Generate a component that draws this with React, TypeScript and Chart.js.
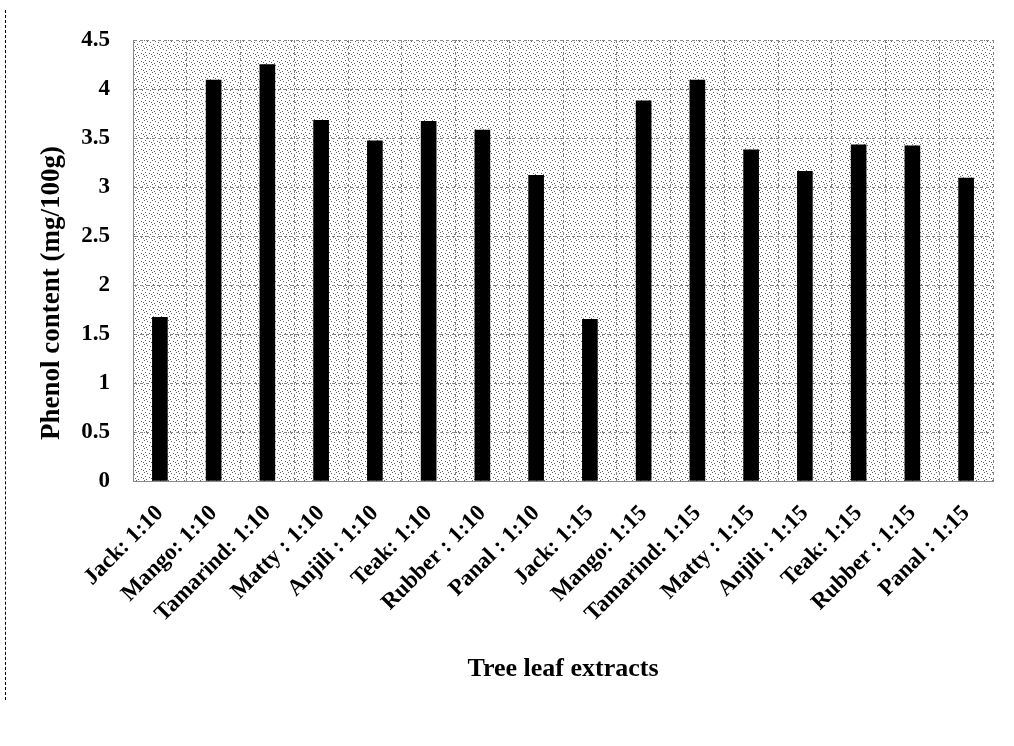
import React, { useEffect, useRef } from "react";
import { Chart, registerables } from "chart.js";

Chart.register(...registerables);

const categories = [
  "Jack: 1:10", "Mango: 1:10", "Tamarind: 1:10", "Matty : 1:10", "Anjili : 1:10", "Teak: 1:10", "Rubber : 1:10", "Panal : 1:10",
  "Jack: 1:15", "Mango: 1:15", "Tamarind: 1:15", "Matty : 1:15", "Anjili : 1:15", "Teak: 1:15", "Rubber : 1:15", "Panal : 1:15",
];
const phenolValues = [1.67, 4.09, 4.25, 3.68, 3.47, 3.67, 3.58, 3.12, 1.65, 3.88, 4.09, 3.38, 3.16, 3.43, 3.42, 3.09];
const yTicks = [0, 0.5, 1, 1.5, 2, 2.5, 3, 3.5, 4, 4.5];
const yTitle = "Phenol content (mg/100g)";
const xTitle = "Tree leaf extracts";

const FONT = "'Liberation Serif', 'Times New Roman', serif";

function makePattern(ctx: CanvasRenderingContext2D) {
  const c = document.createElement("canvas");
  c.width = 8;
  c.height = 8;
  const p = c.getContext("2d")!;
  p.fillStyle = "#ffffff";
  p.fillRect(0, 0, 8, 8);
  p.fillStyle = "#666666";
  const dots = [[0, 0], [3, 1], [6, 2], [1, 4], [5, 5], [2, 7], [7, 6]];
  dots.forEach(([x, y]) => p.fillRect(x, y, 1, 1));
  return ctx.createPattern(c, "repeat");
}

const bgPlugin = {
  id: "stippleBg",
  beforeDraw(chart: any) {
    const { ctx, chartArea } = chart;
    if (!chartArea) return;
    ctx.save();
    const pat = makePattern(ctx);
    ctx.fillStyle = pat || "#eeeeee";
    ctx.fillRect(chartArea.left, chartArea.top, chartArea.right - chartArea.left, chartArea.bottom - chartArea.top);
    ctx.restore();
  },
};

const titlesPlugin = {
  id: "axisTitles",
  afterDraw(chart: any) {
    const { ctx, chartArea } = chart;
    ctx.save();
    ctx.fillStyle = "#000";
    ctx.textAlign = "center";
    ctx.textBaseline = "middle";
    ctx.font = `bold 26px ${FONT}`;
    ctx.fillText(xTitle, (chartArea.left + chartArea.right) / 2, 669);
    ctx.translate(52, 293);
    ctx.rotate(-Math.PI / 2);
    ctx.font = `bold 27px ${FONT}`;
    ctx.fillText(yTitle, 0, 0);
    ctx.restore();
  },
};

export default function App() {
  const ref = useRef<HTMLCanvasElement>(null);
  useEffect(() => {
    if (!ref.current) return;
    const chart = new Chart(ref.current, {
      type: "bar",
      data: {
        labels: categories,
        datasets: [
          {
            data: phenolValues,
            backgroundColor: "#000000",
            borderWidth: 0,
            barThickness: 15,
          },
        ],
      },
      plugins: [bgPlugin, titlesPlugin],
      options: {
        animation: false,
        responsive: false,
        maintainAspectRatio: false,
        layout: { padding: { top: 40, right: 21, bottom: 118, left: 0 } },
        plugins: { legend: { display: false }, tooltip: { enabled: false } },
        scales: {
          x: {
            grid: {
              display: true,
              offset: true,
              color: "#888888",
              lineWidth: 1,
              drawTicks: false,
            },
            border: { display: true, color: "#888888", dash: [3, 3] },
            ticks: {
              color: "#000",
              font: { family: FONT, size: 23, weight: "bold" },
              maxRotation: 45,
              minRotation: 45,
              padding: 19,
              autoSkip: false,
            },
            afterFit(scale: any) {
              scale.height = 147;
            },
          },
          y: {
            min: 0,
            max: 4.5,
            afterBuildTicks(scale: any) {
              scale.ticks = yTicks.map((v) => ({ value: v }));
            },
            grid: { color: "#888888", lineWidth: 1, drawTicks: false },
            border: { display: true, color: "#888888", dash: [3, 3] },
            ticks: {
              color: "#000",
              font: { family: FONT, size: 23, weight: "bold" },
              padding: 23,
              callback: (v: any) => String(v),
            },
            afterFit(scale: any) {
              scale.width = 133;
            },
          },
        },
      } as any,
    });
    return () => chart.destroy();
  }, []);
  return (
    <div style={{ position: "fixed", left: 0, top: 0, width: 1014, height: 746, background: "#fff" }}>
      <div style={{ position: "absolute", left: 5, top: 10, width: 0, height: 690, borderLeft: "1px dashed #000" }} />
      <canvas ref={ref} width={1014} height={746} style={{ position: "absolute", left: 0, top: 0 }} />
    </div>
  );
}
